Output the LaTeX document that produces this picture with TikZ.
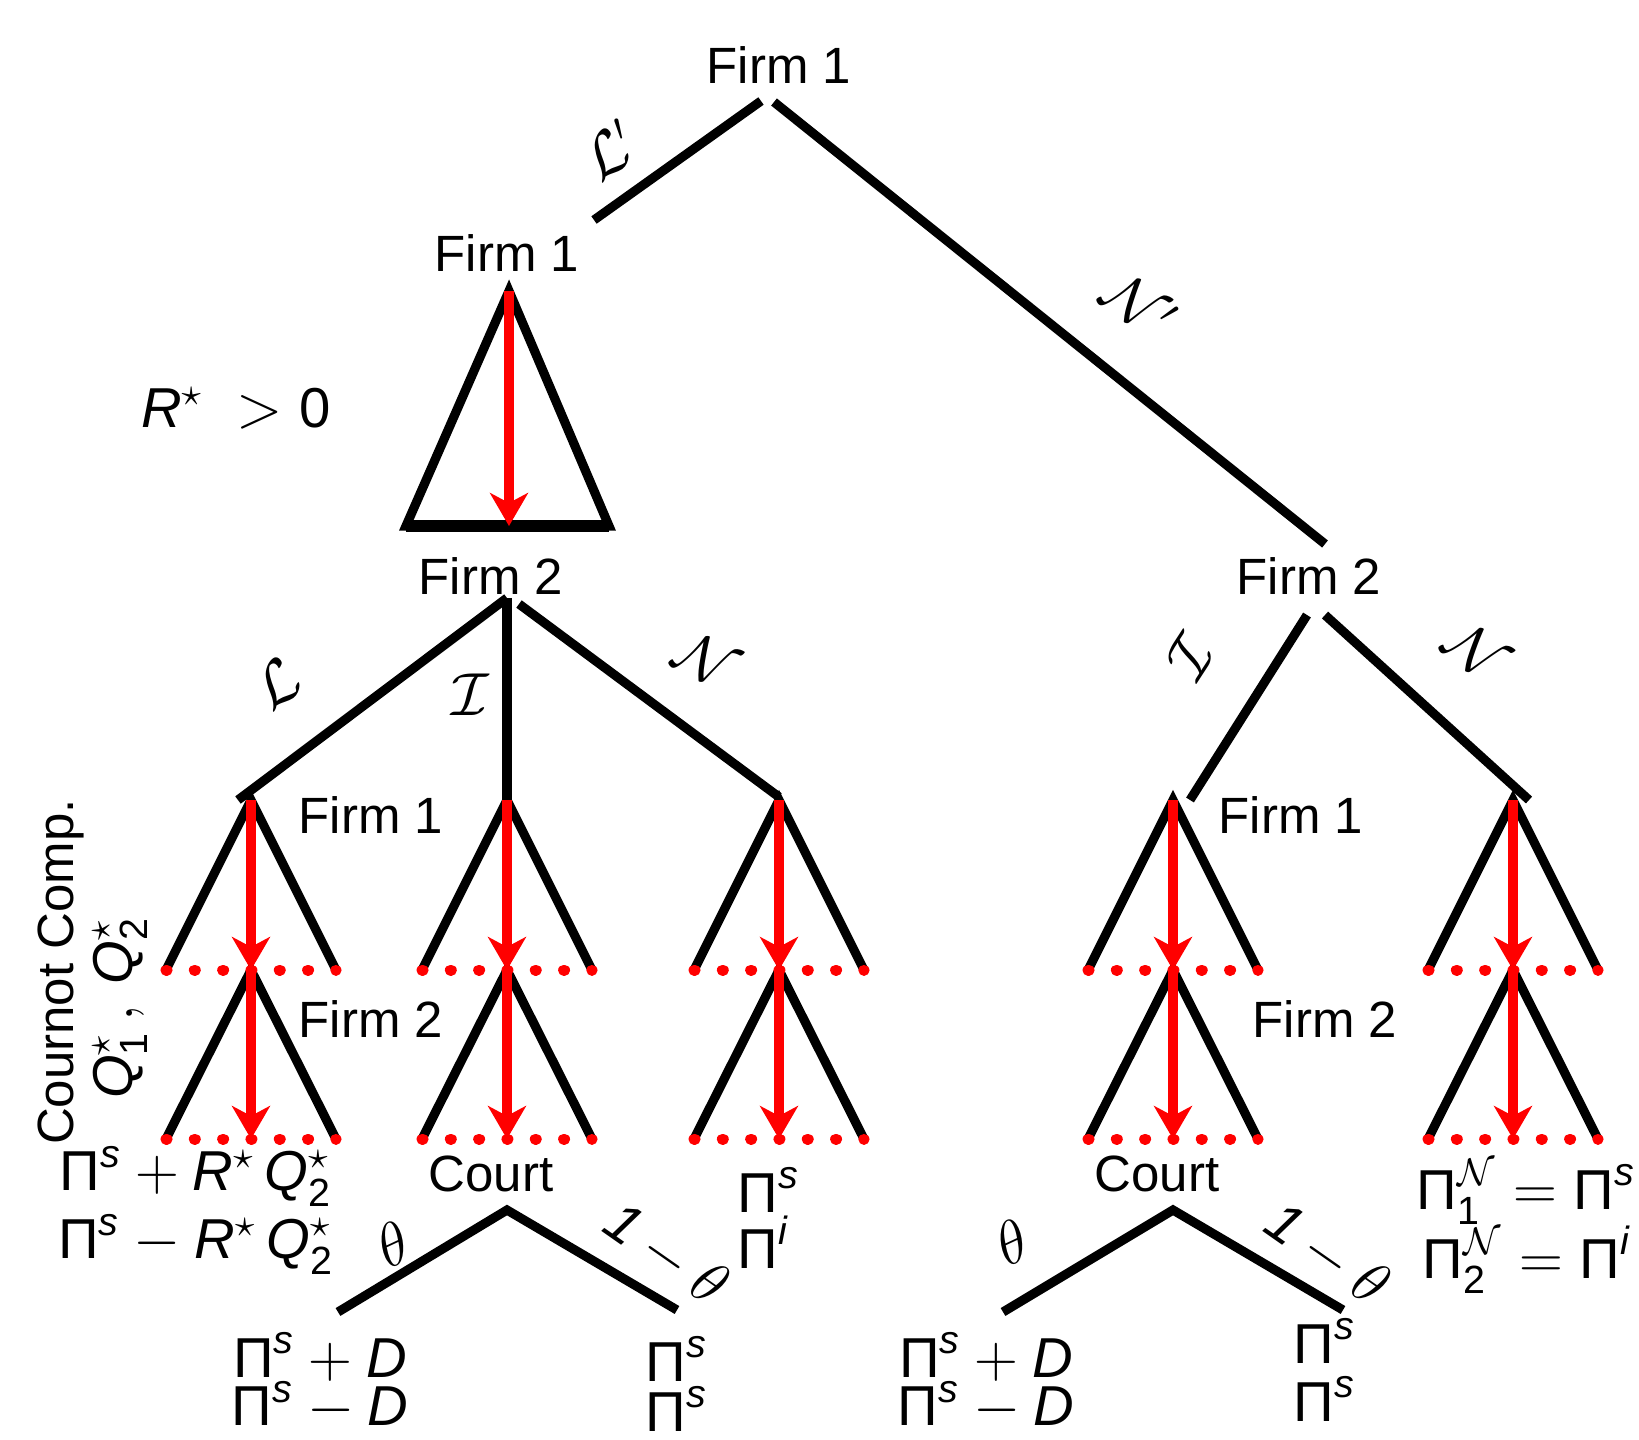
\documentclass[tikz,border=0pt]{standalone}
\usepackage{fontspec}
\setmainfont{Liberation Sans}
\usetikzlibrary{arrows.meta}
\newcommand\PI{\mbox{Π}}
\begin{document}
\begin{tikzpicture}[x=0.01cm,y=-0.01cm,
  edge/.style={line width=2.6pt, black},
  choice/.style={line width=2.7pt, red, -{Stealth[length=0.33cm,width=0.38cm,inset=0.1cm]}},
  infoset/.style={line width=0.11cm, red, line cap=round, dash pattern=on 0.01cm off 0.273cm},
  lbl/.style={font=\fontsize{14.5}{17}\selectfont, inner sep=0pt},
  mlbl/.style={font=\fontsize{16}{19}\selectfont, inner sep=0pt},
]
\useasboundingbox (0,0) rectangle (1639,1439);
% ---------- top level ----------
\node[lbl] (f1top) at (779,65) {Firm 1};
\coordinate (rootL) at (761,101);
\coordinate (rootR) at (774,102);
\coordinate (n1) at (594,220);
\coordinate (n2end) at (1325,544);
\draw[edge] (rootL) -- (n1);
\draw[edge] (rootR) -- (n2end);
\node[mlbl, rotate=35] (lLp) at (610,150) {$\mathcal{L}'$};
\node[mlbl, rotate=-38] (lNp) at (1140,305) {$\mathcal{N}'$};
% ---------- Firm 1 triangle ----------
\node[lbl] (f1b) at (507,253) {Firm 1};
\coordinate (t0) at (509,291);
\coordinate (tl) at (406,526);
\coordinate (tr) at (609,526);
\coordinate (tm) at (509,526);
\draw[edge, line join=miter] (tl) -- (t0) -- (tr) -- cycle;
\draw[edge, line width=3.2pt] (tl) -- (tr);
\draw[choice] (t0) -- (tm);
\node[mlbl] (rstar) at (236,408) {$\mathit{R}^\star\; > \mathrm{0}$};
% ---------- Firm 2 (left) ----------
\node[lbl] (f2l) at (491,576) {Firm 2};
\coordinate (v2) at (507,598);
\coordinate (v2r) at (519,604);
\coordinate (eA) at (238,800);
\coordinate (eB) at (507,805);
\coordinate (eC) at (779,797);
\draw[edge] (v2) -- (eA);
\draw[edge] (v2) -- (eB);
\draw[edge] (v2r) -- (eC);
\node[mlbl, rotate=35] (lL) at (277,683) {$\mathcal{L}$};
\node[mlbl] (lI) at (470,695) {$\mathcal{I}$};
\node[mlbl, rotate=-30] (lN) at (706,660) {$\mathcal{N}$};
% ---------- Firm 2 (right) ----------
\node[lbl] (f2r) at (1309,576) {Firm 2};
\coordinate (w2l) at (1307,615);
\coordinate (w2r) at (1325,615);
\coordinate (eD) at (1190,800);
\coordinate (eE) at (1529,800);
\draw[edge] (w2l) -- (eD);
\draw[edge] (w2r) -- (eE);
\node[mlbl, rotate=57] (rI) at (1190,656) {$\mathcal{I}$};
\node[mlbl, rotate=-40] (rN) at (1476,651) {$\mathcal{N}$};
% ---------- Cournot subtrees ----------
\foreach \n/\x in {a/251,b/507,c/779,d/1173,e/1513} {
  \coordinate (\n1) at (\x,800);
  \coordinate (\n2) at (\x,970);
  \coordinate (\n3) at (\x,1139);
  \coordinate (\n1l) at (\x-85,970);
  \coordinate (\n1r) at (\x+85,970);
  \coordinate (\n2l) at (\x-85,1139);
  \coordinate (\n2r) at (\x+85,1139);
  \draw[edge] (\n1l) -- (\n1) -- (\n1r);
  \draw[edge] (\n2l) -- (\n2) -- (\n2r);
  \draw[infoset] (\n1l) -- (\n1r);
  \draw[infoset] (\n2l) -- (\n2r);
  \draw[choice] (\n1) -- (\n2);
  \draw[choice] (\n2) -- (\n3);
}
\node[lbl] (lf1) at (371,815) {Firm 1};
\node[lbl] (lf2) at (371,1019) {Firm 2};
\node[lbl] (rf1) at (1291,815) {Firm 1};
\node[lbl] (rf2) at (1325,1019) {Firm 2};
\node[lbl, rotate=90] (cc) at (61,972) {Cournot Comp.};
\node[mlbl, rotate=90] (qq) at (120,1008) {$\mathit{Q}_{\mathrm{1}}^\star\,,\,\mathit{Q}_{\mathrm{2}}^\star$};
% ---------- payoffs after Cournot ----------
\node[mlbl] (pa1) at (196,1176) {$\PI^{\mathit{s}} + \mathit{R}^\star\,\mathit{Q}_{\mathrm{2}}^\star$};
\node[mlbl] (pa2) at (196,1244) {$\PI^{\mathit{s}} - \mathit{R}^\star\,\mathit{Q}_{\mathrm{2}}^\star$};
\node[mlbl, anchor=west] (pc1) at (737,1190) {$\PI^{\mathit{s}}$};
\node[mlbl, anchor=west] (pc2) at (737,1242) {$\PI^{\mathit{i}}$};
\node[mlbl, anchor=west] (pe1) at (1416,1192) {$\PI_{\mathrm{1}}^{\mathcal{N}} = \PI^{\mathit{s}}$};
\node[mlbl, anchor=west] (pe2) at (1422,1260) {$\PI_{\mathrm{2}}^{\mathcal{N}} = \PI^{\mathit{i}}$};
% ---------- Court (left) ----------
\node[lbl] (cl) at (491,1174) {Court};
\coordinate (cv) at (507,1210);
\coordinate (cvl) at (338,1312);
\coordinate (cvr) at (677,1310);
\draw[edge] (cvl) -- (cv) -- (cvr);
\node[mlbl, rotate=25] (th1) at (393,1244) {$\theta$};
\node[mlbl, rotate=-35] (omt1) at (666,1254) {$\mathit{1}-\theta$};
\node[mlbl] (o1a) at (320,1357) {$\PI^{\mathit{s}} + \mathit{D}$};
\node[mlbl] (o1b) at (320,1406) {$\PI^{\mathit{s}} - \mathit{D}$};
\node[mlbl] (o2a) at (677,1359) {$\PI^{\mathit{s}}$};
\node[mlbl] (o2b) at (677,1409) {$\PI^{\mathit{s}}$};
% ---------- Court (right) ----------
\node[lbl] (cr) at (1157,1174) {Court};
\coordinate (dv) at (1173,1210);
\coordinate (dvl) at (1003,1312);
\coordinate (dvr) at (1343,1310);
\draw[edge] (dvl) -- (dv) -- (dvr);
\node[mlbl, rotate=25] (th2) at (1012,1242) {$\theta$};
\node[mlbl, rotate=-35] (omt2) at (1327,1254) {$\mathit{1}-\theta$};
\node[mlbl] (o3a) at (986,1357) {$\PI^{\mathit{s}} + \mathit{D}$};
\node[mlbl] (o3b) at (986,1406) {$\PI^{\mathit{s}} - \mathit{D}$};
\node[mlbl] (o4a) at (1325,1341) {$\PI^{\mathit{s}}$};
\node[mlbl] (o4b) at (1325,1399) {$\PI^{\mathit{s}}$};
\end{tikzpicture}
\end{document}
